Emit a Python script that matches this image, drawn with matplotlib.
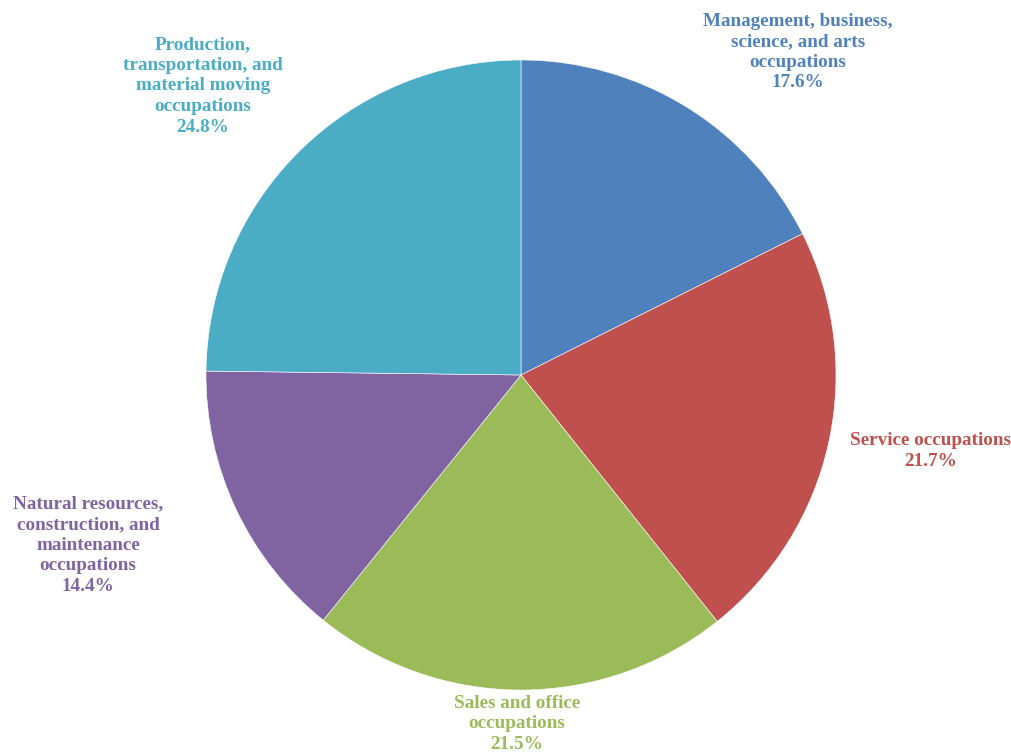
import matplotlib
matplotlib.use("Agg")
import matplotlib.pyplot as plt

categories = [
    "Management, business,\nscience, and arts\noccupations",
    "Service occupations",
    "Sales and office\noccupations",
    "Natural resources,\nconstruction, and\nmaintenance\noccupations",
    "Production,\ntransportation, and\nmaterial moving\noccupations",
]
values = [17.6, 21.7, 21.5, 14.4, 24.8]
colors = ["#4F81BD", "#C0504D", "#9BBB59", "#8064A2", "#4BACC6"]
# label centre positions in pixel coordinates (x, y from top)
label_pos = [(798, 52), (931, 451), (517, 724), (88, 545), (203, 86)]

W, H = 1012, 752
fig = plt.figure(figsize=(W / 100, H / 100), dpi=100)
ax = fig.add_axes([0, 0, 1, 1])

cx, cy, R = 521, 375, 315
ax.pie(values, colors=colors, startangle=90, counterclock=False,
       center=(cx, H - cy), radius=R, frame=True,
       wedgeprops=dict(edgecolor="white", linewidth=0.4))
ax.set_xlim(0, W)
ax.set_ylim(0, H)
ax.set_aspect("equal")
ax.axis("off")

for cat, val, col, (lx, ly) in zip(categories, values, colors, label_pos):
    ax.text(lx, H - ly, f"{cat}\n{val:.1f}%", color=col, ha="center", va="center",
            fontsize=13.8, fontweight="bold", family="Liberation Serif",
            linespacing=1.27)

fig.savefig("out.png", dpi=100)
